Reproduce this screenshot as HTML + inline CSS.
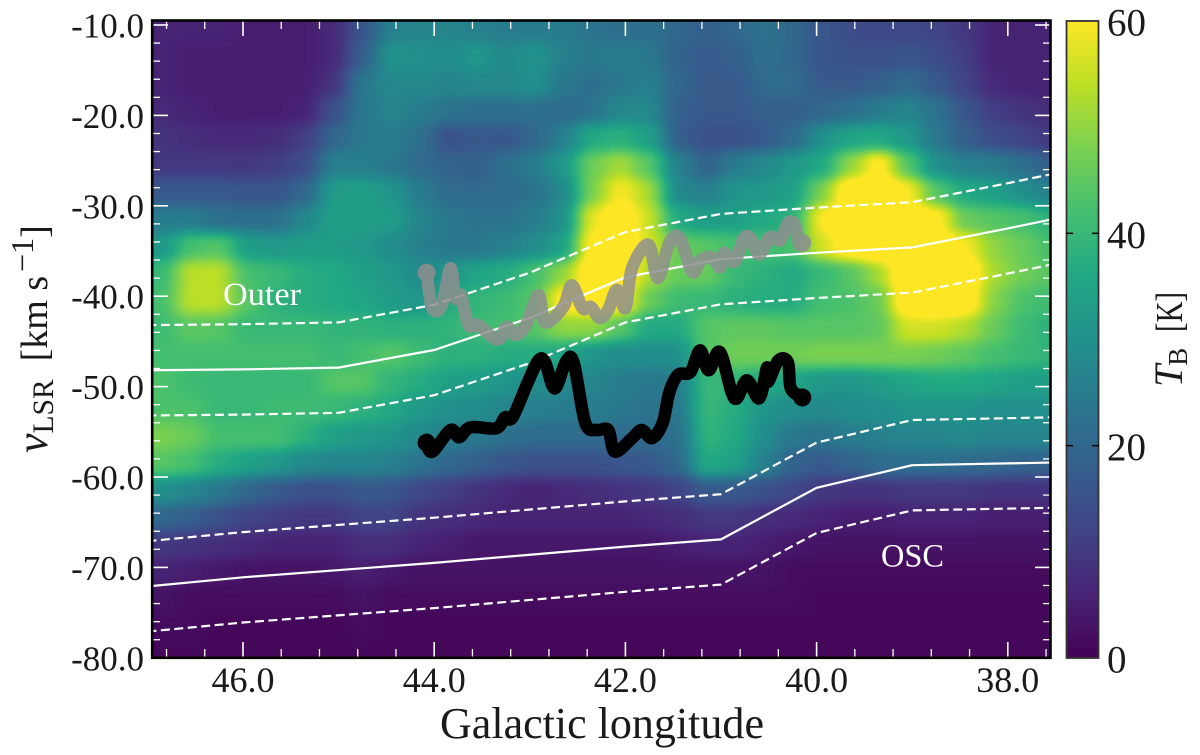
<!DOCTYPE html>
<html lang="en">
<head>
<meta charset="utf-8">
<title>Galactic longitude-velocity map</title>
<style>
html,body{margin:0;padding:0;background:#fff;width:1200px;height:755px;overflow:hidden}
svg{display:block}
text{font-family:"Liberation Serif",serif;fill:#1a1a1a}
</style>
</head>
<body>
<svg id="chart" xmlns="http://www.w3.org/2000/svg" width="1200" height="755" viewBox="0 0 1200 755">
  <defs>
    <clipPath id="plot-clip"><rect x="152" y="20" width="899" height="638"/></clipPath>
    <filter id="smooth" filterUnits="userSpaceOnUse" x="60" y="-60" width="1080" height="800" color-interpolation-filters="sRGB">
      <feGaussianBlur stdDeviation="9 6"/>
      <feComponentTransfer>
        <feFuncR id="map-r" type="table"/>
        <feFuncG id="map-g" type="table"/>
        <feFuncB id="map-b" type="table"/>
      </feComponentTransfer>
    </filter>
    <linearGradient id="cbar-gradient" x1="0" y1="1" x2="0" y2="0"></linearGradient>
  </defs>
  <g id="plot" clip-path="url(#plot-clip)">
    <g id="heatmap" filter="url(#smooth)"></g>
    <g id="contours"></g>
    <g id="traces"></g>
    <text x="223" y="305" font-size="33" textLength="78" lengthAdjust="spacingAndGlyphs" style="fill:#fff">Outer</text>
    <text x="881" y="566.5" font-size="33" textLength="63" lengthAdjust="spacingAndGlyphs" style="fill:#fff">OSC</text>
    <g id="ticks"></g>
  </g>
  <rect x="152.2" y="20.5" width="898.3" height="637.3" fill="none" stroke="#000" stroke-width="2.6"/>
  <g id="tick-labels"></g>
  <text x="602" y="738" font-size="44" text-anchor="middle" textLength="324" lengthAdjust="spacingAndGlyphs">Galactic longitude</text>
  <text transform="translate(47,453) rotate(-90)" font-size="38"><tspan font-style="italic" font-size="44">v</tspan><tspan font-size="29.5" dy="6">LSR</tspan><tspan dy="-6" dx="18">[km s</tspan><tspan font-size="32" dy="-14" dx="4">−1</tspan><tspan dy="14">]</tspan></text>
  <g id="colorbar">
    <rect x="1066.5" y="21" width="32" height="637" fill="url(#cbar-gradient)" stroke="#333" stroke-width="1.8"/>
  </g>
  <text transform="translate(1182,387) rotate(-90)" font-size="40"><tspan font-style="italic">T</tspan><tspan font-size="27" dy="5" dx="-1">B</tspan></text>
  <text transform="translate(1182,332) rotate(-90)" font-size="38" textLength="40" lengthAdjust="spacingAndGlyphs">[K]</text>
</svg>
<script>
// Heatmap axes (bin centres)
var longitudeBins = [46.85,46.55,46.25,45.95,45.65,45.35,45.05,44.75,44.45,44.15,43.85,43.55,43.25,42.95,42.65,42.35,42.05,41.75,41.45,41.15,40.85,40.55,40.25,39.95,39.65,39.35,39.05,38.75,38.45,38.15,37.85,37.55];
var velocityBins = [-10.5,-13.5,-16.5,-19.5,-22.5,-25.5,-28.5,-31.5,-34.5,-37.5,-40.5,-43.5,-46.5,-49.5,-52.5,-55.5,-58.5,-61.5,-64.5,-67.5,-70.5,-73.5,-76.5,-79.5];
// Brightness temperature [K], one row per velocity bin (colour scale saturates at 60)
var brightnessRows = [
[6,6,6,5,5,5,7,16,26,27,27,26,25,25,25,23,22,22,20,18,20,23,20,16,14,13,13,12,10,6,6,6],
[6,5,5,5,5,5,7,18,31,30,29,32,28,31,26,24,25,24,19,17,18,22,20,16,15,15,16,14,11,6,6,6],
[6,5,5,5,5,5,9,24,28,28,27,28,28,30,24,22,24,26,20,17,17,21,21,17,17,18,21,17,12,7,6,6],
[7,6,5,5,5,6,15,24,27,25,23,22,22,22,21,23,28,28,18,17,17,18,18,20,22,25,27,23,16,11,9,8],
[9,8,7,7,8,11,20,24,25,22,15,17,16,20,26,36,38,34,18,15,15,17,21,30,35,36,32,24,18,14,12,10],
[10,10,10,10,11,14,26,26,24,21,19,18,22,25,32,47,52,44,26,19,25,28,32,36,50,62,44,30,26,25,22,18],
[17,17,17,16,16,20,33,34,31,25,21,21,21,23,28,48,60,52,28,26,31,32,34,48,66,68,60,44,36,34,30,26],
[25,25,22,22,22,28,34,34,33,27,24,23,23,25,30,58,66,55,36,33,34,36,38,60,68,70,68,62,46,44,42,38],
[32,42,44,33,32,33,33,32,29,26,24,24,26,29,34,62,68,56,46,44,42,42,42,56,64,68,70,66,60,50,46,42],
[40,54,54,42,40,37,36,34,32,29,31,35,37,42,50,66,68,52,46,46,40,38,36,40,44,52,68,70,68,52,47,44],
[42,54,54,44,38,37,36,35,33,31,37,39,41,44,62,66,62,46,41,40,38,37,37,42,43,46,66,70,66,49,43,41],
[41,45,44,40,40,40,39,39,38,38,39,41,42,44,50,50,44,36,36,44,45,45,44,44,44,45,56,56,53,46,41,38],
[42,42,42,42,42,42,40,42,44,41,38,38,37,37,35,31,29,29,30,44,47,47,47,48,48,48,48,47,45,42,40,39],
[43,41,40,40,40,40,44,44,39,37,34,33,31,29,28,27,25,24,25,40,39,36,35,32,31,33,35,36,36,35,34,34],
[43,43,40,40,41,41,40,38,36,32,30,29,27,26,25,25,24,23,24,40,37,31,29,28,29,30,31,31,31,30,30,30],
[48,46,42,42,42,38,34,32,31,28,26,24,22,21,21,21,21,21,22,39,36,29,24,23,25,26,27,27,28,27,27,27],
[44,42,37,34,32,28,27,27,26,23,20,18,16,15,15,15,16,17,20,36,34,26,19,17,19,21,22,22,21,20,19,19],
[30,27,24,20,17,15,15,17,16,13,11,9,7,6,7,8,9,10,12,17,17,15,13,10,9,9,10,10,10,9,9,9],
[20,18,15,12,11,10,10,12,12,9,8,7,6,6,6,6,6,7,8,10,10,8,7,6,5,5,6,6,6,5,5,5],
[10,9,8,7,6,6,6,8,8,6,5,4,4,4,4,4,4,4,5,6,6,5,4,3,3,3,3,3,3,3,3,3],
[6,5,4,3,3,3,4,5,4,3,3,3,3,3,3,3,3,3,3,3,3,3,2,2,2,2,2,2,2,2,2,2],
[3,2,2,2,2,2,2,3,2,2,2,2,2,2,2,2,2,2,2,2,2,2,2,1,1,1,1,1,1,1,1,1],
[2,2,1,1,1,1,1,2,1,1,1,1,1,1,1,1,1,1,1,1,1,1,1,1,1,1,1,1,1,1,1,1],
[1,1,1,1,1,1,1,1,1,1,1,1,1,1,1,1,1,1,1,1,1,1,1,1,1,1,1,1,1,1,1,1]
];
// Spiral-arm tracks
var outerLongitudes = [47,46,45,44,43,42,41,40,39,38,37.5];
var outerVelocities = [-48.2,-48.1,-47.9,-45.95,-42.4,-37.9,-35.9,-35.2,-34.6,-32.5,-31.4];
var oscLongitudes = [47,46,44,42,41,40,39,38,37.5];
var oscVelocities = [-72.1,-71.1,-69.5,-67.7,-66.9,-61.2,-58.7,-58.5,-58.4];
var armHalfWidth = 5;
// Gray velocity trace
var grayLongitudes = [44.08,44.02,43.92,43.83,43.78,43.72,43.64,43.54,43.34,43.24,43.15,43.04,42.91,42.84,42.65,42.56,42.45,42.36,42.27,42.18,42.09,42.00,41.93,41.76,41.66,41.54,41.43,41.30,41.21,41.10,41.01,40.97,40.86,40.76,40.69,40.60,40.49,40.38,40.30,40.23,40.18,40.15];
var grayVelocities = [-37.4,-41.3,-41.0,-36.9,-40.2,-39.9,-43.2,-43.2,-44.8,-43.4,-44.3,-43.2,-39.9,-42.9,-41.2,-38.8,-41.3,-41.2,-42.4,-41.5,-39.3,-41.3,-36.9,-34.3,-38.0,-34.1,-33.6,-37.3,-36.0,-35.7,-36.8,-35.2,-36.2,-33.6,-33.6,-35.4,-33.5,-33.8,-31.9,-32.1,-34.3,-34.1];
// Black velocity trace
var blackLongitudes = [44.08,44.02,43.83,43.74,43.62,43.35,43.26,43.18,43.02,42.91,42.84,42.74,42.62,42.54,42.42,42.30,42.18,42.11,41.93,41.83,41.72,41.61,41.54,41.45,41.32,41.22,41.13,41.01,40.86,40.73,40.60,40.52,40.51,40.40,40.30,40.27,40.15];
var blackVelocities = [-56.2,-57.2,-54.8,-55.6,-54.5,-54.6,-53.4,-53.4,-49.5,-47.1,-47.3,-50.2,-47.2,-47.4,-54.0,-54.8,-54.8,-57.2,-55.7,-54.8,-55.7,-54.0,-50.6,-48.7,-48.4,-46.0,-48.2,-46.2,-51.3,-49.3,-51.3,-47.9,-49.5,-47.1,-47.3,-50.2,-51.2];
// Ticks
var xMajorTicks = [46,44,42,40,38];
var xMinorTicks = [46.8,46.4,45.6,45.2,44.8,44.4,43.6,43.2,42.8,42.4,41.6,41.2,40.8,40.4,39.6,39.2,38.8,38.4,37.6];
var xTickLabels = ['46.0','44.0','42.0','40.0','38.0'];
var yMajorTicks = [-10,-20,-30,-40,-50,-60,-70,-80];
var yMinorTicks = [-12,-14,-16,-18,-22,-24,-26,-28,-32,-34,-36,-38,-42,-44,-46,-48,-52,-54,-56,-58,-62,-64,-66,-68,-72,-74,-76,-78];
var yTickLabels = ['-10.0','-20.0','-30.0','-40.0','-50.0','-60.0','-70.0','-80.0'];
var colorbarTicks = [0,20,40,60];
var colorbarLabels = ['0','20','40','60'];
var viridisStops = [[68,1,84],[72,36,117],[65,68,135],[53,95,141],[42,120,142],[33,145,140],[34,168,132],[68,191,112],[122,209,81],[189,223,38],[253,231,37]];

var SVG_NS = 'http://www.w3.org/2000/svg';
var GRAY_RANGE = 72;
function xScale(l){ return 243 + (46 - l) * 95.6; }
function yScale(v){ return 25 + (-10 - v) * 9.04; }
function cbarScale(t){ return 658 - t / 60 * 637; }
function valueFill(t){
  var g = Math.round(Math.max(0, Math.min(1, t / GRAY_RANGE)) * 255);
  return 'rgb(' + g + ',' + g + ',' + g + ')';
}
function make(tag, parent, attrs){
  var el = document.createElementNS(SVG_NS, tag);
  for (var key in attrs) { el.setAttribute(key, attrs[key]); }
  parent.appendChild(el);
  return el;
}
function pointList(ls, vs, offset){
  return ls.map(function(l, i){ return xScale(l).toFixed(1) + ',' + yScale(vs[i] + offset).toFixed(1); }).join(' ');
}
function smoothPath(ls, vs){
  var p = ls.map(function(l, i){ return [xScale(l), yScale(vs[i])]; });
  var d = 'M' + p[0][0].toFixed(1) + ' ' + p[0][1].toFixed(1);
  for (var i = 0; i < p.length - 1; i++) {
    var a = p[Math.max(0, i - 1)], b = p[i], c = p[i + 1], e = p[Math.min(p.length - 1, i + 2)];
    d += 'C' + (b[0] + (c[0] - a[0]) / 6).toFixed(1) + ' ' + (b[1] + (c[1] - a[1]) / 6).toFixed(1) + ' ' +
         (c[0] - (e[0] - b[0]) / 6).toFixed(1) + ' ' + (c[1] - (e[1] - b[1]) / 6).toFixed(1) + ' ' +
         c[0].toFixed(1) + ' ' + c[1].toFixed(1);
  }
  return d;
}

// Colour map applied after smoothing, so saturated cores stay flat yellow
var tableStops = viridisStops.concat([viridisStops[10], viridisStops[10]]);
['map-r', 'map-g', 'map-b'].forEach(function(id, channel){
  document.getElementById(id).setAttribute('tableValues', tableStops.map(function(c){ return (c[channel] / 255).toFixed(4); }).join(' '));
});

// Heatmap cells
var heatmap = document.getElementById('heatmap');
var halfLon = 0.15, halfVel = 1.5;
brightnessRows.forEach(function(row, j){
  var v = velocityBins[j];
  var top = yScale(v + halfVel), bottom = yScale(v - halfVel);
  if (j === 0) { top -= 60; }
  if (j === velocityBins.length - 1) { bottom += 60; }
  row.forEach(function(t, i){
    var l = longitudeBins[i];
    var left = xScale(l + halfLon), right = xScale(l - halfLon);
    if (i === 0) { left -= 60; }
    if (i === longitudeBins.length - 1) { right += 60; }
    var el = make('rect', heatmap, {x: left, y: top, width: right - left + 0.6, height: bottom - top + 0.6, fill: valueFill(t)});
    
    
  });
});

// Spiral-arm tracks
var contours = document.getElementById('contours');
[[outerLongitudes, outerVelocities], [oscLongitudes, oscVelocities]].forEach(function(arm){
  var centre = make('polyline', contours, {points: pointList(arm[0], arm[1], 0), fill: 'none', stroke: '#fff', 'stroke-width': 2.2});
  
  
  var upper = make('polyline', contours, {points: pointList(arm[0], arm[1], armHalfWidth), fill: 'none', stroke: '#fff', 'stroke-width': 2.2, 'stroke-dasharray': '9 4.5'});
  
  
  var lower = make('polyline', contours, {points: pointList(arm[0], arm[1], -armHalfWidth), fill: 'none', stroke: '#fff', 'stroke-width': 2.2, 'stroke-dasharray': '9 4.5'});
  
  
});

// Velocity traces
var traces = document.getElementById('traces');
var grayGroup = make('g', traces, {opacity: 0.85});


var grayLine = make('path', grayGroup, {d: smoothPath(grayLongitudes, grayVelocities), fill: 'none', stroke: '#8f8f8f', 'stroke-width': 12.5, 'stroke-linejoin': 'round', 'stroke-linecap': 'round'});


var grayStart = make('circle', grayGroup, {cx: xScale(grayLongitudes[0]), cy: yScale(grayVelocities[0]), r: 9, fill: '#8f8f8f'});


var grayEnd = make('circle', grayGroup, {cx: xScale(grayLongitudes[grayLongitudes.length - 1]), cy: yScale(grayVelocities[grayVelocities.length - 1]), r: 9, fill: '#8f8f8f'});


var blackLine = make('path', traces, {d: smoothPath(blackLongitudes, blackVelocities), fill: 'none', stroke: '#000', 'stroke-width': 12.5, 'stroke-linejoin': 'round', 'stroke-linecap': 'round'});


var blackStart = make('circle', traces, {cx: xScale(blackLongitudes[0]), cy: yScale(blackVelocities[0]), r: 9, fill: '#000'});


var blackEnd = make('circle', traces, {cx: xScale(blackLongitudes[blackLongitudes.length - 1]), cy: yScale(blackVelocities[blackVelocities.length - 1]), r: 9, fill: '#000'});



// Inward ticks on all four sides
var ticks = document.getElementById('ticks');
function addTick(x1, y1, x2, y2, w, name){
  var el = make('line', ticks, {x1: x1, y1: y1, x2: x2, y2: y2, stroke: '#fff', 'stroke-width': w});
  
  
}
xMajorTicks.forEach(function(l){
  addTick(xScale(l), 20, xScale(l), 36, 1.6, 'x-major-tick-top');
  addTick(xScale(l), 658, xScale(l), 642, 1.6, 'x-major-tick-bottom');
});
xMinorTicks.forEach(function(l){
  addTick(xScale(l), 20, xScale(l), 29, 1.3, 'x-minor-tick-top');
  addTick(xScale(l), 658, xScale(l), 649, 1.3, 'x-minor-tick-bottom');
});
yMajorTicks.forEach(function(v){
  addTick(152, yScale(v), 168, yScale(v), 1.6, 'y-major-tick-left');
  addTick(1051, yScale(v), 1035, yScale(v), 1.6, 'y-major-tick-right');
});
yMinorTicks.forEach(function(v){
  addTick(152, yScale(v), 160, yScale(v), 1.3, 'y-minor-tick-left');
  addTick(1051, yScale(v), 1043, yScale(v), 1.3, 'y-minor-tick-right');
});

// Tick labels
var tickLabels = document.getElementById('tick-labels');
xMajorTicks.forEach(function(l, i){
  var el = make('text', tickLabels, {x: xScale(l), y: 692, 'font-size': 36, 'text-anchor': 'middle'});
  
  
  el.textContent = xTickLabels[i];
});
yMajorTicks.forEach(function(v, i){
  var el = make('text', tickLabels, {x: 144, y: yScale(v) + 12.5, 'font-size': 35, 'text-anchor': 'end'});
  
  
  el.textContent = yTickLabels[i];
});

// Colorbar
var gradient = document.getElementById('cbar-gradient');
viridisStops.forEach(function(c, i){
  make('stop', gradient, {offset: i / (viridisStops.length - 1), 'stop-color': 'rgb(' + c.join(',') + ')'});
});
var colorbar = document.getElementById('colorbar');
colorbarTicks.forEach(function(t, i){
  var y = cbarScale(t);
  if (t > 0 && t < 60) {
    var tl = make('line', colorbar, {x1: 1066, y1: y, x2: 1073, y2: y, stroke: '#000', 'stroke-width': 1.5});
    
    
    var tr = make('line', colorbar, {x1: 1099, y1: y, x2: 1092, y2: y, stroke: '#000', 'stroke-width': 1.5});
    
    
  }
  var label = make('text', colorbar, {x: 1107, y: y + 14.5, 'font-size': 39});
  
  
  label.textContent = colorbarLabels[i];
});
</script>
</body>
</html>
